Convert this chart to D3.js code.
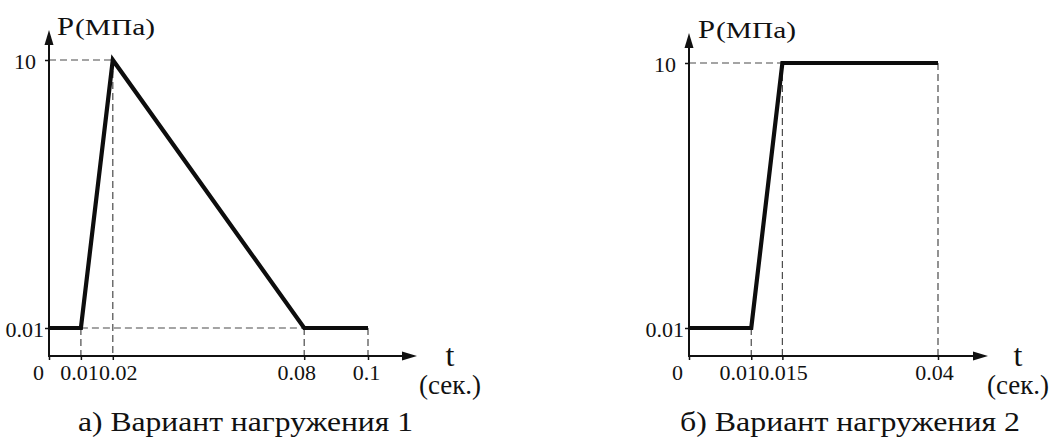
<!DOCTYPE html>
<html>
<head>
<meta charset="utf-8">
<script src="https://cdn.jsdelivr.net/npm/d3@7"></script>
<style>
  html, body { margin: 0; padding: 0; background: #fff; }
</style>
</head>
<body>
<script>
// variant 1: rise, peak, linear drop
var time1 = [0, 0.01, 0.02, 0.08, 0.1];
var pressure1 = [0.01, 0.01, 10, 0.01, 0.01];
var timeTicks1 = [0, 0.01, 0.02, 0.08, 0.1];
var timeLabels1 = ["0", "0.01", "0.02", "0.08", "0.1"];
var dashH1 = [[10, 0, 0.02], [0.01, 0.01, 0.08]];   // [level, from t, to t]
var dashV1 = [0.01, 0.02, 0.08, 0.1];

// variant 2: rise then hold
var time2 = [0, 0.01, 0.015, 0.04];
var pressure2 = [0.01, 0.01, 10, 10];
var timeTicks2 = [0, 0.01, 0.015, 0.04];
var timeLabels2 = ["0", "0.01", "0.015", "0.04"];
var dashH2 = [[10, 0, 0.015]];
var dashV2 = [0.01, 0.015, 0.04];

var pressureTicks = [0.01, 10];
var pressureLabels = ["0.01", "10"];
var captions = ["а) Вариант нагружения 1", "б) Вариант нагружения 2"];

var serif = "serif";

var svg = d3.select("body").append("svg")
    .attr("width", 1055)
    .attr("height", 446);

var panels = [
  { time: time1, pressure: pressure1, ticks: timeTicks1, labels: timeLabels1,
    dashH: dashH1, dashV: dashV1, caption: captions[0],
    left: 49, right: 368, bottom: 356, low: 328, top: 60, xArrow: 417, yArrow: 30,
    xNudge: [-11, -2, 5, -8, -2], titleX: 57, titleY: 35, tX: 450, capX: 78, capW: 335 },
  { time: time2, pressure: pressure2, ticks: timeTicks2, labels: timeLabels2,
    dashH: dashH2, dashV: dashV2, caption: captions[1],
    left: 689, right: 938, bottom: 356, low: 328, top: 63, xArrow: 988, yArrow: 33,
    xNudge: [-12, -13, 0, -4], titleX: 698, titleY: 38, tX: 1018, capX: 680, capW: 340 }
];

panels.forEach(drawPanel);

// force the serif face on every label
svg.selectAll("text")
    .attr("font-family", serif)
    .style("font-family", serif);

function drawPanel(p) {
  var x = d3.scaleLinear().domain([0, d3.max(p.time)]).range([p.left, p.right]);
  var y = d3.scaleLinear().domain([0, 0.01, 10]).range([p.bottom, p.low, p.top]);
  var g = svg.append("g").attr("font-family", serif);

  // dashed guides
  g.selectAll(".dash-h").data(p.dashH).enter().append("line")
      .attr("class", "dash-h")
      .attr("x1", function(d) { return x(d[1]); })
      .attr("x2", function(d) { return x(d[2]); })
      .attr("y1", function(d) { return y(d[0]); })
      .attr("y2", function(d) { return y(d[0]); });

  g.selectAll(".dash-v").data(p.dashV).enter().append("line")
      .attr("class", "dash-v")
      .attr("x1", function(d) { return x(d); })
      .attr("x2", function(d) { return x(d); })
      .attr("y1", function(d) { return y(p.pressure[p.time.indexOf(d)]); })
      .attr("y2", y(0));

  g.selectAll(".dash-h, .dash-v")
      .attr("stroke", "#4a4a4a")
      .attr("stroke-width", 1.2)
      .attr("stroke-dasharray", "7,4");

  // x axis
  var xAxis = g.append("g")
      .attr("transform", "translate(0," + y(0) + ")")
      .call(d3.axisBottom(x).tickValues(p.ticks).tickSize(4)
        .tickFormat(function(d, i) { return p.labels[i]; }));
  xAxis.attr("font-family", serif);
  xAxis.select(".domain").remove();
  xAxis.selectAll("line").attr("stroke", "#111").attr("stroke-width", 1.5);
  xAxis.selectAll("text")
      .attr("y", 24).attr("dy", null)
      .attr("dx", function(d, i) { return p.xNudge[i]; })
      .attr("font-size", 22).attr("fill", "#111");

  // y axis
  var yAxis = g.append("g")
      .attr("transform", "translate(" + x(0) + ",0)")
      .call(d3.axisLeft(y).tickValues(pressureTicks).tickSize(4)
        .tickFormat(function(d, i) { return pressureLabels[i]; }));
  yAxis.attr("font-family", serif);
  yAxis.select(".domain").remove();
  yAxis.selectAll("line").attr("stroke", "#111").attr("stroke-width", 1.5);
  yAxis.selectAll("text")
      .attr("x", function(d) { return d === 10 ? -13 : -5; })
      .attr("dy", null).attr("y", 8)
      .attr("font-size", 22).attr("fill", "#111");

  // axis lines with arrow heads
  g.append("line")
      .attr("x1", x(0) - 1).attr("x2", p.xArrow - 12)
      .attr("y1", y(0)).attr("y2", y(0))
      .attr("stroke", "#111").attr("stroke-width", 2);
  g.append("path")
      .attr("d", "M" + p.xArrow + "," + y(0) + "L" + (p.xArrow - 15) + "," + (y(0) - 4.5) +
                 "L" + (p.xArrow - 15) + "," + (y(0) + 4.5) + "Z")
      .attr("fill", "#111");
  g.append("line")
      .attr("x1", x(0)).attr("x2", x(0))
      .attr("y1", y(0) + 1).attr("y2", p.yArrow + 12)
      .attr("stroke", "#111").attr("stroke-width", 2);
  g.append("path")
      .attr("d", "M" + x(0) + "," + p.yArrow + "L" + (x(0) - 4.5) + "," + (p.yArrow + 15) +
                 "L" + (x(0) + 4.5) + "," + (p.yArrow + 15) + "Z")
      .attr("fill", "#111");

  // load curve
  var line = d3.line()
      .x(function(d) { return x(d[0]); })
      .y(function(d) { return y(d[1]); });
  g.append("path")
      .datum(d3.zip(p.time, p.pressure))
      .attr("d", line)
      .attr("fill", "none")
      .attr("stroke", "#0d0d0d")
      .attr("stroke-width", 4.2)
      .attr("stroke-linejoin", "miter");

  // axis titles
  g.append("text")
      .attr("x", p.titleX).attr("y", p.titleY)
      .attr("font-size", 26).attr("fill", "#111")
      .attr("textLength", 17).attr("lengthAdjust", "spacingAndGlyphs")
      .text("P");
  g.append("text")
      .attr("x", p.titleX + 18).attr("y", p.titleY)
      .attr("font-size", 24).attr("fill", "#111")
      .attr("textLength", 80).attr("lengthAdjust", "spacingAndGlyphs")
      .text("(МПа)");
  g.append("text")
      .attr("x", p.tX).attr("y", 366)
      .attr("text-anchor", "middle")
      .attr("font-size", 32).attr("fill", "#111")
      .text("t");
  g.append("text")
      .attr("x", p.tX).attr("y", 394)
      .attr("text-anchor", "middle")
      .attr("font-size", 27).attr("fill", "#111")
      .text("(сек.)");

  // caption
  g.append("text")
      .attr("x", p.capX).attr("y", 431)
      .attr("font-size", 28).attr("fill", "#111")
      .attr("textLength", p.capW).attr("lengthAdjust", "spacingAndGlyphs")
      .text(p.caption);
}
</script>
</body>
</html>
